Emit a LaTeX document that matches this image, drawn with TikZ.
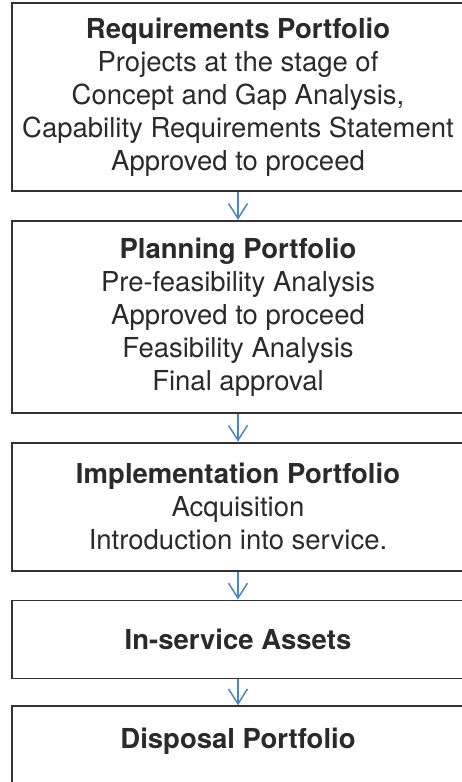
\documentclass[tikz,border=0pt]{standalone}
\usepackage{fontspec}
\setmainfont{TeX Gyre Heros}
\usetikzlibrary{positioning, arrows.meta}
\definecolor{boxline}{HTML}{333333}
\definecolor{flowblue}{HTML}{4a86c5}
\definecolor{inktext}{HTML}{2a2a2a}

\begin{document}
\begin{tikzpicture}[x=1pt, y=-1pt,
  portfolio/.style={
    draw=boxline, line width=1.8pt, minimum width=452pt, inner sep=0pt,
    align=center, text=inktext, font=\fontsize{27.5}{33}\selectfont
  },
  flow/.style={-{Straight Barb[length=15pt, width=19pt, line width=1.5pt]},
    line width=1.5pt, flowblue},
  node distance=28pt
]
\useasboundingbox (0,0) rectangle (462,782);
\clip (0,0) rectangle (462,782);

\node[portfolio, minimum height=188pt] (req) at (238, 97)
  {\textbf{Requirements Portfolio}\\Projects at the stage of\\Concept and Gap Analysis,\\Capability Requirements Statement\\Approved to proceed};
\node[portfolio, minimum height=192pt, below=of req] (plan)
  {\textbf{Planning Portfolio}\\Pre-feasibility Analysis\\Approved to proceed\\Feasibility Analysis\\Final approval};
\node[portfolio, minimum height=128pt, below=of plan] (impl)
  {\textbf{Implementation Portfolio}\\Acquisition\\Introduction into service.};
\node[portfolio, minimum height=78pt, below=of impl] (inservice)
  {\textbf{In-service Assets}};
\node[portfolio, text height=42pt, text depth=54pt, below=26pt of inservice] (disposal)
  {\textbf{Disposal Portfolio}};

\draw[flow] (req) -- (plan);
\draw[flow] (plan) -- (impl);
\draw[flow] (impl) -- (inservice);
\draw[flow] (inservice) -- (disposal);

\end{tikzpicture}
\end{document}
